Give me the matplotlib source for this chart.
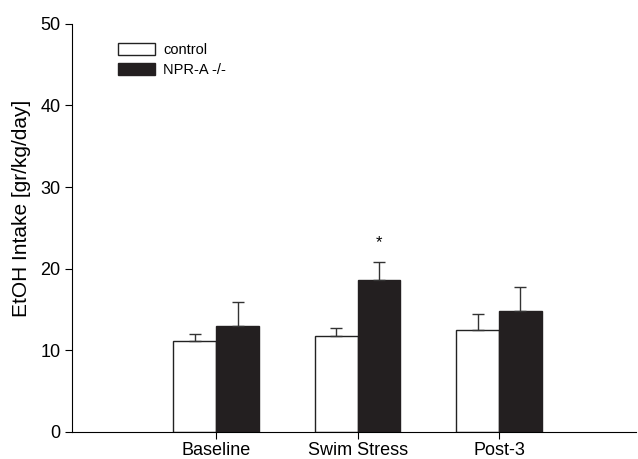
import numpy as np
import matplotlib.pyplot as plt
from matplotlib.patches import Patch

plt.rcParams['font.family'] = ['Liberation Sans', 'DejaVu Sans']

groups = ["Baseline", "Swim Stress", "Post-3"]
control = [11.1, 11.8, 12.5]
control_err = [0.9, 0.9, 1.9]
npra = [13.0, 18.6, 14.8]
npra_err = [2.9, 2.2, 2.9]
labels = ["control", "NPR-A -/-"]

x = np.arange(1, len(groups) + 1)
w = 0.303

fig = plt.figure(figsize=(6.38, 4.59), dpi=100)
ax = fig.add_axes([0.113, 0.059, 0.884, 0.889])

ekw = dict(elinewidth=1, capthick=1, ecolor="#333333")
ax.bar(x - w/2, control, w, color="white", edgecolor="#222222", linewidth=1,
       yerr=[np.zeros(3), control_err], capsize=4.3, error_kw=ekw)
ax.bar(x + w/2, npra, w, color="#231f20", edgecolor="#231f20", linewidth=1,
       yerr=[np.zeros(3), npra_err], capsize=4.3, error_kw=ekw)

# significance mark
ax.text(x[1] + w/2, npra[1] + npra_err[1] + 1.5, "*", ha="center", va="bottom", fontsize=12)

ax.set_xlim(-0.02, 3.97)
ax.set_ylim(0, 50)
ax.set_yticks([0, 10, 20, 30, 40, 50])
ax.set_xticks(x)
ax.set_xticklabels(groups)
ax.set_ylabel("EtOH Intake [gr/kg/day]", fontsize=15)
ax.yaxis.set_label_coords(-0.073, 0.549)
ax.tick_params(labelsize=13, direction="out", length=5, width=0.8)
ax.tick_params(axis="x", pad=2)
ax.spines["top"].set_visible(False)
ax.spines["right"].set_visible(False)

handles = [Patch(facecolor="white", edgecolor="#222222"),
           Patch(facecolor="#231f20", edgecolor="#231f20")]
ax.legend(handles, labels, loc="upper left", bbox_to_anchor=(0.058, 0.985), frameon=False,
          fontsize=10.5, handlelength=2.55, handleheight=0.82, handletextpad=0.55,
          labelspacing=0.4)

fig.savefig("out.png", dpi=100)
